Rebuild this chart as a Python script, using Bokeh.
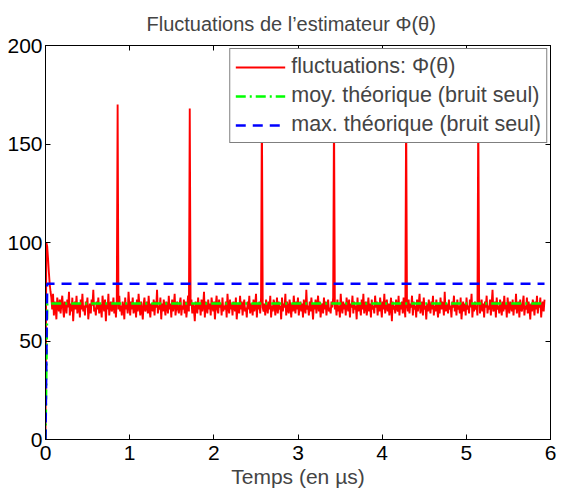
import numpy as np
from bokeh.plotting import figure
from bokeh.models import LinearAxis, Range1d, FixedTicker, Legend, LegendItem
from bokeh.embed import file_html
from bokeh.resources import INLINE

# ---- data ----
fluct_values = [
    0, 100, 98, 92, 85, 79, 75, 72, 66, 74, 63, 70, 67, 61, 72, 68, 65, 71, 64, 69,
    73, 66, 62, 70, 68, 64, 71, 67, 75, 63, 69, 65, 72, 60, 68, 70, 66, 73, 64, 67,
    69, 62, 71, 66, 74, 65, 68, 63, 70, 67, 72, 61, 66, 69, 64, 71, 68, 76, 65, 67,
    63, 70, 66, 72, 64, 69, 67, 62, 73, 68, 65, 71, 60, 69, 66, 74, 63, 68, 70, 65,
    67, 72, 64, 69, 62, 71, 170, 66, 73, 65, 68, 63, 70, 67, 61, 72, 66, 69, 64, 75,
    68, 63, 70, 66, 72, 64, 67, 69, 62, 71, 65, 74, 68, 63, 70, 66, 61, 69, 72, 65,
    67, 70, 64, 73, 66, 62, 69, 68, 65, 71, 63, 70, 67, 76, 64, 68, 66, 72, 61, 69,
    65, 71, 67, 63, 70, 68, 64, 73, 66, 69, 62, 71, 65, 68, 74, 63, 67, 70, 66, 64,
    69, 72, 63, 68, 66, 71, 64, 70, 62, 67, 73, 65, 168, 68, 71, 64, 69, 66, 60, 70,
    67, 64, 72, 66, 69, 63, 71, 65, 68, 75, 62, 70, 67, 64, 71, 66, 69, 63, 72, 68,
    65, 70, 61, 68, 73, 66, 64, 71, 67, 69, 63, 72, 65, 68, 66, 70, 62, 74, 67, 64,
    71, 66, 69, 63, 70, 68, 65, 72, 61, 67, 69, 64, 73, 66, 70, 63, 68, 71, 65, 67,
    62, 70, 66, 73, 64, 69, 67, 63, 71, 65, 68, 74, 62, 69, 66, 70, 64, 72, 169, 67,
    65, 69, 63, 71, 67, 64, 70, 66, 73, 62, 68, 65, 71, 69, 63, 67, 72, 64, 70, 66,
    68, 61, 72, 65, 69, 67, 74, 63, 70, 66, 64, 71, 68, 62, 69, 65, 73, 67, 64, 70,
    66, 72, 63, 68, 70, 65, 69, 62, 71, 67, 64, 76, 66, 68, 63, 70, 65, 72, 67, 61,
    69, 66, 71, 64, 68, 73, 65, 70, 62, 67, 69, 64, 72, 66, 70, 63, 68, 71, 65, 67,
    64, 70, 67, 72, 168, 66, 69, 63, 71, 65, 68, 62, 74, 67, 64, 70, 66, 69, 63, 72,
    68, 65, 71, 62, 69, 67, 73, 64, 70, 66, 68, 61, 72, 65, 69, 67, 63, 71, 66, 74,
    64, 68, 70, 63, 67, 72, 65, 69, 62, 71, 66, 68, 64, 73, 67, 70, 63, 69, 65, 72,
    67, 62, 70, 66, 74, 64, 68, 71, 65, 69, 63, 67, 72, 60, 70, 66, 68, 64, 71, 67,
    65, 73, 63, 69, 66, 70, 64, 72, 67, 62, 170, 68, 65, 71, 64, 69, 67, 73, 63, 70,
    66, 68, 62, 71, 65, 69, 74, 64, 67, 70, 63, 72, 66, 68, 61, 69, 65, 71, 67, 64,
    70, 66, 73, 63, 68, 65, 71, 67, 62, 69, 64, 72, 66, 70, 68, 63, 75, 65, 69, 67,
    64, 71, 66, 68, 62, 70, 67, 73, 65, 69, 63, 71, 66, 68, 64, 72, 61, 67, 70, 65,
    69, 63, 72, 66, 68, 64, 71, 67, 74, 62, 69, 65, 70, 66, 68, 63, 169, 72, 64, 67,
    71, 65, 69, 62, 70, 67, 73, 64, 68, 66, 71, 63, 69, 76, 65, 67, 70, 62, 72, 66,
    68, 64, 71, 67, 63, 70, 65, 73, 66, 69, 62, 72, 67, 64, 70, 68, 65, 71, 63, 69,
    66, 74, 64, 68, 70, 62, 71, 67, 65, 69, 73, 63, 68, 66, 72, 64, 70, 67, 61, 69,
    65, 71, 68, 63, 70, 66, 73, 64, 69, 67, 72, 62, 68, 70, 65, 71,
]
t_end = 5.929
fluct_time = np.linspace(0, t_end, len(fluct_values))

theo_time = [0.0, 0.02, 5.929]
moy_theo = [0, 69, 69]
max_theo = [0, 79, 79]

x_ticks = [0, 1, 2, 3, 4, 5, 6]
y_ticks = [0, 50, 100, 150, 200]

title_text = "Fluctuations de l\u2019estimateur \u03a6(\u03b8)"
xlabel_text = "Temps (en \u00b5s)"
labels = ["fluctuations: \u03a6(\u03b8)", "moy. th\u00e9orique (bruit seul)", "max. th\u00e9orique (bruit seul)"]

FONT = "Liberation Sans"

p = figure(frame_width=505, frame_height=394, output_backend="svg", toolbar_location=None,
           x_range=Range1d(0, 6), y_range=Range1d(0, 200),
           min_border_left=45, min_border_right=9, min_border_top=45, min_border_bottom=50)
p.title.text = title_text
p.title.text_font = FONT
p.title.text_font_size = "20px"
p.title.text_font_style = "normal"
p.title.text_line_height = 0.8
p.title.align = "left"
p.title.offset = 101
p.title.standoff = 21
p.grid.visible = False
p.outline_line_color = "black"
p.outline_line_width = 1

r1 = p.line(fluct_time, fluct_values, line_color="#ff0000", line_width=1.9)
r2 = p.line(theo_time, moy_theo, line_color="#00ff00", line_width=2.5, line_dash="10 4 2 4")
r3 = p.line(theo_time, max_theo, line_color="#0000ff", line_width=2.5, line_dash="10 7")

def style_axis(ax, ticks, show_labels=True):
    ax.ticker = FixedTicker(ticks=ticks)
    ax.major_tick_in = 5
    ax.major_tick_out = 0
    ax.minor_tick_line_color = None
    ax.axis_line_color = "black"
    ax.major_tick_line_color = "black"
    ax.major_label_text_font = FONT
    ax.major_label_text_color = "black"
    ax.major_label_text_font_size = "21px"
    if show_labels:
        ax.major_label_standoff = 3
    else:
        ax.major_label_overrides = {t: "" for t in ticks}
        ax.major_label_standoff = 0

style_axis(p.xaxis[0], x_ticks)
style_axis(p.yaxis[0], y_ticks)
p.xaxis[0].major_label_standoff = 6
p.xaxis[0].axis_label = xlabel_text
p.xaxis[0].axis_label_text_font = FONT
p.xaxis[0].axis_label_text_font_size = "21px"
p.xaxis[0].axis_label_text_font_style = "normal"
p.xaxis[0].axis_label_standoff = 2

top_ax = LinearAxis()
style_axis(top_ax, x_ticks, show_labels=False)
p.add_layout(top_ax, "above")
right_ax = LinearAxis()
style_axis(right_ax, y_ticks, show_labels=False)
p.add_layout(right_ax, "right")

legend = Legend(items=[LegendItem(label=labels[0], renderers=[r1]),
                       LegendItem(label=labels[1], renderers=[r2]),
                       LegendItem(label=labels[2], renderers=[r3])],
                location="top_right")
legend.label_text_font = FONT
legend.label_text_font_size = "21.5px"
legend.border_line_color = "black"
legend.border_line_width = 1
legend.background_fill_alpha = 1
legend.glyph_width = 50
legend.glyph_height = 24
legend.label_standoff = 6
legend.spacing = 4
legend.padding = 5
legend.margin = 3
legend.label_height = 24
p.add_layout(legend)

open("out.html", "w").write(file_html(p, INLINE))
